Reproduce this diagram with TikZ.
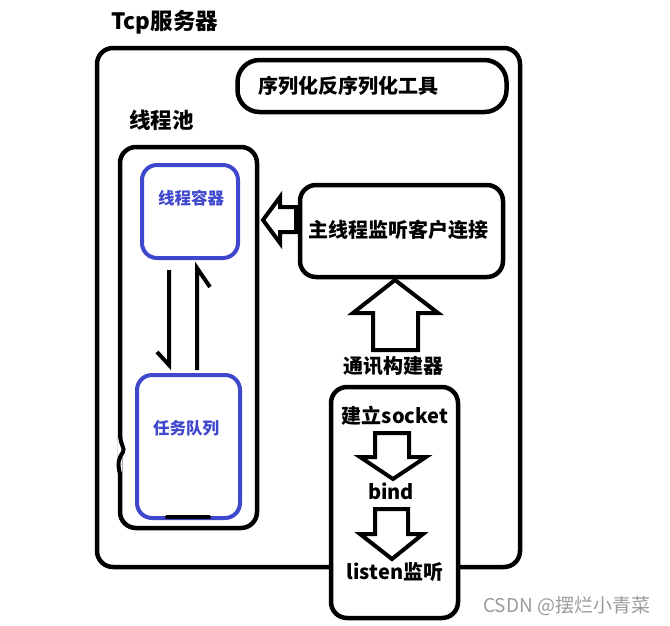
\documentclass[tikz,border=0pt]{standalone}
\usepackage{fontspec}
\setmainfont{Noto Sans CJK SC}
\definecolor{qblue}{RGB}{63,72,204}
\definecolor{wmgray}{RGB}{155,155,155}
\newcommand{\fsz}[1]{\fontsize{#1}{#1}\selectfont\bfseries}
\begin{document}
\begin{tikzpicture}[x=1pt,y=-1pt,
  box/.style={draw=black, line width=4.5pt, rounded corners=16pt, inner sep=0pt, fill=white},
  bbox/.style={draw=qblue, line width=4pt, rounded corners=15pt, inner sep=0pt},
  txt/.style={inner sep=0pt},
  blk/.style={draw=black, line width=4pt, line join=miter, fill=white},
  harp/.style={draw=black, line width=4pt, line join=miter}]
\useasboundingbox (0,0) rectangle (670,625);
\fill[white] (0,0) rectangle (670,625);

% outer server box
\node[box, minimum width=423pt, minimum height=519pt] (server) at (308.5,307.5) {};
\node[txt, anchor=west, font=\fsz{22.5}] (title) at (111,22) {Tcp服务器};

% serialization tool
\node[box, rounded corners=22pt, minimum width=269pt, minimum height=52pt] (serial) at (372,86) {};
\node[txt, font=\fsz{20}] (serialtxt) at (348,86) {序列化反序列化工具};

% thread pool
\node[txt, anchor=west, font=\fsz{21.5}] (poollabel) at (129,120) {线程池};
\node[box, minimum width=137pt, minimum height=381pt] (pool) at (188.5,337.5) {};
\draw[line width=4pt, white] (120,438) -- (120,472);
\draw[line width=4pt, line cap=round] (120,436) .. controls (121,446) and (125,448) .. (123,452)
  .. controls (119,458) and (117,462) .. (120,474);

\node[bbox, minimum width=96pt, minimum height=93pt] (container) at (190,211.5) {};
\node[txt, text=qblue, font=\fsz{16.5}] (containertxt) at (191,198) {线程容器};
\node[bbox, minimum width=103pt, minimum height=143pt] (queue) at (188.5,446.5) {};
\node[txt, text=qblue, font=\fsz{16.5}] (queuetxt) at (186,428) {任务队列};
\coordinate (barL) at (167,517);
\coordinate (barR) at (209,517);
\draw[line width=4pt, line cap=round] (barL) -- (barR);

% harpoon arrows between container and queue
\coordinate (d1) at (169,270);
\coordinate (d2) at (169,365);
\coordinate (d3) at (157,352);
\draw[harp] (d1) -- (d2) -- (d3);
\coordinate (u1) at (197,370);
\coordinate (u2) at (197,268);
\coordinate (u3) at (210,287);
\draw[harp] (u1) -- (u2) -- (u3);

% main thread listening
\node[box, minimum width=203pt, minimum height=92pt] (mainthr) at (401.5,231) {};
\node[txt, font=\fsz{20}] (mainthrtxt) at (398,230) {主线程监听客户连接};

% left block arrow
\draw[blk] (296,207) -- (280,207) -- (280,197) -- (263,220) -- (280,243) -- (280,232) -- (296,232) -- cycle;

% up block arrow
\draw[blk] (373,350) -- (373,313) -- (353,313) -- (395,280) -- (438,313) -- (418,313) -- (418,350) -- cycle;
\node[txt, font=\fsz{20}] (commlabel) at (393,366) {通讯构建器};

% communication builder box
\node[box, minimum width=127pt, minimum height=231pt] (comm) at (394.5,502.5) {};
\node[txt, font=\fsz{20}] (sock) at (395,416) {建立socket};
\draw[blk] (375,433) -- (409,433) -- (409,457) -- (426,457) -- (393,479) -- (360,457) -- (375,457) -- cycle;
\node[txt, font=\fsz{20}] (bind) at (391,491) {bind};
\draw[blk] (375,509) -- (408,509) -- (408,534) -- (423,534) -- (392,559) -- (360,534) -- (375,534) -- cycle;
\node[txt, font=\fsz{20}] (listen) at (395,572) {listen监听};

% watermark
\node[txt, anchor=west, text=wmgray, font=\fontsize{19}{19}\selectfont] (wm) at (483,606) {CSDN @摆烂小青菜};
\end{tikzpicture}
\end{document}
